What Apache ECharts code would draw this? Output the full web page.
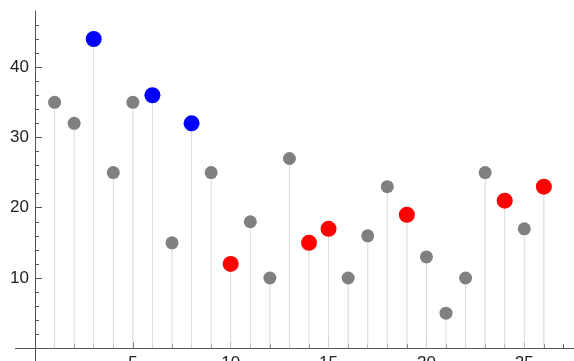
<!DOCTYPE html>
<html>
<head>
<meta charset="utf-8">
<script src="https://cdn.jsdelivr.net/npm/echarts@6/dist/echarts.min.js"></script>
<style>
html,body{margin:0;padding:0;background:#fff;}
#chart{width:574px;height:361px;}
</style>
</head>
<body>
<div id="chart"></div>
<script>
// Data
var xValues = [1,2,3,4,5,6,7,8,9,10,11,12,13,14,15,16,17,18,19,20,21,22,23,24,25,26];
var yValues = [35,32,44,25,35,36,15,32,25,12,18,10,27,15,17,10,16,23,19,13,5,10,25,21,17,23];
var blueX = [3,6,8];
var redX = [10,14,15,19,24,26];
var xTickLabels = [5,10,15,20,25];
var yTickLabels = [10,20,30,40];
var xMinorTicks = [1,2,3,4,6,7,8,9,11,12,13,14,16,17,18,19,21,22,23,24,26,27];
var yMinorTicks = [2,4,6,8,12,14,16,18,22,24,26,28,32,34,36,38,42,44,46];

var grayPts = [], bluePts = [], redPts = [], stems = [];
for (var i = 0; i < xValues.length; i++) {
  var p = [xValues[i], yValues[i]];
  stems.push(p);
  if (blueX.indexOf(xValues[i]) >= 0) bluePts.push(p);
  else if (redX.indexOf(xValues[i]) >= 0) redPts.push(p);
  else grayPts.push(p);
}

var axisColor = '#555';
var font = 'Liberation Sans, Arial, sans-serif';
var xMax = 27.54, yMax = 48;

function minorAxis(gi, isX, ticks, max) {
  return {
    type: 'value', gridIndex: gi, min: 0, max: max, position: isX ? 'bottom' : 'left',
    axisLine: {show: false},
    axisTick: {show: true, inside: true, length: 4, customValues: ticks, lineStyle: {color: axisColor}},
    axisLabel: {show: false},
    splitLine: {show: false}
  };
}

var chart = echarts.init(document.getElementById('chart'));
chart.setOption({
  animation: false,
  grid: [
    {left: 35, right: 0, top: 10.9, bottom: 12.7, outerBoundsMode: 'none'},
    {left: 15.4, right: 0, top: 10.9, bottom: -1.4, outerBoundsMode: 'none'}
  ],
  xAxis: [{
    type: 'value', gridIndex: 0, min: 0, max: xMax, position: 'bottom',
    axisLine: {show: false},
    axisTick: {show: true, inside: true, length: 6, customValues: xTickLabels, lineStyle: {color: axisColor}},
    axisLabel: {customValues: xTickLabels, color: '#222', fontSize: 17, fontFamily: font, margin: 7},
    splitLine: {show: false}
  }, minorAxis(0, true, xMinorTicks, xMax), {
    type: 'value', gridIndex: 1, min: -1, max: xMax, position: 'bottom',
    axisLine: {onZero: true, lineStyle: {color: axisColor, width: 1}},
    axisTick: {show: false}, axisLabel: {show: false}, splitLine: {show: false}
  }],
  yAxis: [{
    type: 'value', gridIndex: 0, min: 0, max: yMax, position: 'left',
    axisLine: {show: false},
    axisTick: {show: true, inside: true, length: 7, customValues: yTickLabels, lineStyle: {color: axisColor}},
    axisLabel: {customValues: yTickLabels, color: '#222', fontSize: 17, fontFamily: font, margin: 6},
    splitLine: {show: false}
  }, minorAxis(0, false, yMinorTicks, yMax), {
    type: 'value', gridIndex: 1, min: -2, max: yMax, position: 'left',
    axisLine: {onZero: true, lineStyle: {color: axisColor, width: 1}},
    axisTick: {show: false}, axisLabel: {show: false}, splitLine: {show: false}
  }],
  series: [{
    type: 'bar', xAxisIndex: 0, yAxisIndex: 0, data: stems, barWidth: 1, itemStyle: {color: '#d9d9d9'}, silent: true, z: 1
  }, {
    type: 'scatter', xAxisIndex: 0, yAxisIndex: 0, data: grayPts, symbolSize: 13, itemStyle: {color: '#808080', opacity: 1}, z: 3
  }, {
    type: 'scatter', xAxisIndex: 0, yAxisIndex: 0, data: bluePts, symbolSize: 16, itemStyle: {color: '#0000ff', opacity: 1}, z: 3
  }, {
    type: 'scatter', xAxisIndex: 0, yAxisIndex: 0, data: redPts, symbolSize: 16, itemStyle: {color: '#ff0000', opacity: 1}, z: 3
  }]
});
</script>
</body>
</html>
